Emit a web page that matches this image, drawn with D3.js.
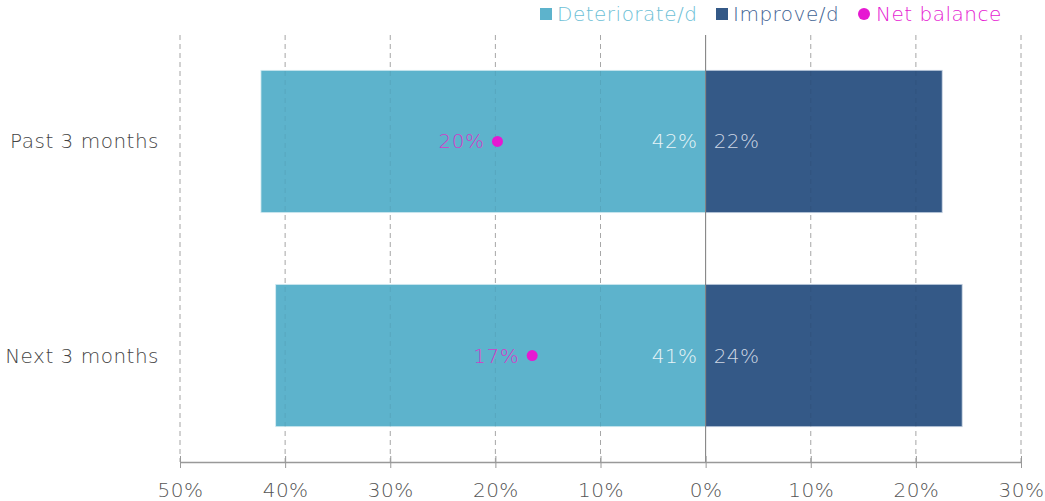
<!DOCTYPE html>
<html>
<head>
<meta charset="utf-8">
<script src="https://cdn.jsdelivr.net/npm/d3@7"></script>
<style>
  html, body { margin: 0; padding: 0; background: #fff; }
  svg { display: block; font-family: "DejaVu Sans", sans-serif; font-weight: 200; letter-spacing: 0.5px; }
</style>
</head>
<body>
<svg id="chart" width="1045" height="501"></svg>
<script>
// Survey responses: share reporting deterioration vs improvement, with the net balance
const categories = ["Past 3 months", "Next 3 months"];
const deteriorate = [42.3, 40.9];
const improve = [22.5, 24.4];
const netBalance = [-19.8, -16.5];
const netLabels = ["20%", "17%"];
const detLabels = ["42%", "41%"];
const impLabels = ["22%", "24%"];
const tickValues = [-50, -40, -30, -20, -10, 0, 10, 20, 30];

const colDet = "#5db3cc";
const colImp = "#345987";
const colNet = "#e619d2";
const FS = 20;

const svg = d3.select("#chart");
const margin = { left: 180, right: 24, top: 35, bottom: 39 };
const W = 1045, H = 501;

const x = d3.scaleLinear().domain([-50, 30]).range([margin.left, W - margin.right]);
const y = d3.scaleBand().domain(categories).range([margin.top, H - margin.bottom]).paddingInner(0.335).paddingOuter(0.165);
const gridVals = tickValues.filter(v => v !== 0);

// gridlines
svg.append("g").selectAll("line").data(gridVals).join("line")
  .attr("x1", d => x(d)).attr("x2", d => x(d))
  .attr("y1", margin.top).attr("y2", H - margin.bottom)
  .attr("stroke", "#b4b4b4")
  .attr("stroke-dasharray", "5,4").attr("stroke-width", 1);

// bars
const g = svg.append("g");
g.selectAll("rect.det").data(categories).join("rect")
  .attr("x", (d, i) => x(-deteriorate[i]))
  .attr("width", (d, i) => x(0) - x(-deteriorate[i]))
  .attr("y", d => y(d)).attr("height", y.bandwidth())
  .attr("fill", colDet)
  .attr("stroke", "#d6ecf2").attr("stroke-width", 0.8);
g.selectAll("rect.imp").data(categories).join("rect")
  .attr("x", x(0))
  .attr("width", (d, i) => x(improve[i]) - x(0))
  .attr("y", d => y(d)).attr("height", y.bandwidth())
  .attr("fill", colImp)
  .attr("stroke", "#c2cfdf").attr("stroke-width", 0.8);

// faint gridlines showing through the bars
svg.append("g").selectAll("line").data(gridVals).join("line")
  .attr("x1", d => x(d)).attr("x2", d => x(d))
  .attr("y1", margin.top).attr("y2", H - margin.bottom)
  .attr("stroke", "#000").attr("stroke-opacity", 0.07)
  .attr("stroke-dasharray", "5,4").attr("stroke-width", 1);

// zero line
svg.append("line")
  .attr("x1", x(0)).attr("x2", x(0))
  .attr("y1", margin.top).attr("y2", H - margin.bottom)
  .attr("stroke", "#7a7a7a").attr("stroke-width", 1);

// x axis
const axis = svg.append("g")
  .attr("transform", `translate(0,${H - margin.bottom})`)
  .call(d3.axisBottom(x).tickValues(tickValues)
    .tickFormat(d => Math.abs(d) + "%").tickSizeInner(6).tickSizeOuter(0).tickPadding(15));
axis.select(".domain").attr("stroke", "#999").attr("stroke-width", 1.5);
axis.selectAll(".tick line").attr("stroke", "#999").attr("y1", -6).attr("y2", 6);
axis.selectAll(".tick text").attr("fill", "#555").attr("font-size", FS)
  .attr("font-family", "'DejaVu Sans', sans-serif").attr("font-weight", 200);

// category labels
svg.append("g").selectAll("text").data(categories).join("text")
  .attr("x", 159).attr("y", d => y(d) + y.bandwidth() / 2)
  .attr("dy", "0.35em").attr("text-anchor", "end")
  .attr("font-size", FS).attr("fill", "#444").text(d => d);

// value labels
svg.append("g").selectAll("text").data(categories).join("text")
  .attr("x", x(0) - 8).attr("y", d => y(d) + y.bandwidth() / 2)
  .attr("dy", "0.35em").attr("text-anchor", "end")
  .attr("font-size", FS).attr("fill", "#e6f3f7").text((d, i) => detLabels[i]);
svg.append("g").selectAll("text").data(categories).join("text")
  .attr("x", x(0) + 8).attr("y", d => y(d) + y.bandwidth() / 2)
  .attr("dy", "0.35em").attr("text-anchor", "start")
  .attr("font-size", FS).attr("fill", "#cdd6e3").text((d, i) => impLabels[i]);

// net balance dots and labels
svg.append("g").selectAll("circle").data(categories).join("circle")
  .attr("cx", (d, i) => x(netBalance[i])).attr("cy", d => y(d) + y.bandwidth() / 2)
  .attr("r", 5.5).attr("fill", colNet);
svg.append("g").selectAll("text").data(categories).join("text")
  .attr("x", (d, i) => x(netBalance[i]) - 13).attr("y", d => y(d) + y.bandwidth() / 2)
  .attr("dy", "0.35em").attr("text-anchor", "end")
  .attr("font-size", FS).attr("fill", "#d23cc8").text((d, i) => netLabels[i]);

// legend
const leg = svg.append("g").attr("font-size", FS);
leg.append("rect").attr("x", 540).attr("y", 8).attr("width", 12).attr("height", 12).attr("fill", colDet);
leg.append("text").attr("x", 557).attr("y", 14).attr("dy", "0.35em").attr("fill", "#6cc0d6").text("Deteriorate/d");
leg.append("rect").attr("x", 716).attr("y", 8).attr("width", 12).attr("height", 12).attr("fill", colImp);
leg.append("text").attr("x", 733).attr("y", 14).attr("dy", "0.35em").attr("fill", "#3f6393").text("Improve/d");
leg.append("circle").attr("cx", 864).attr("cy", 14).attr("r", 6).attr("fill", colNet);
leg.append("text").attr("x", 876).attr("y", 14).attr("dy", "0.35em").attr("fill", colNet).text("Net balance");
</script>
</body>
</html>
